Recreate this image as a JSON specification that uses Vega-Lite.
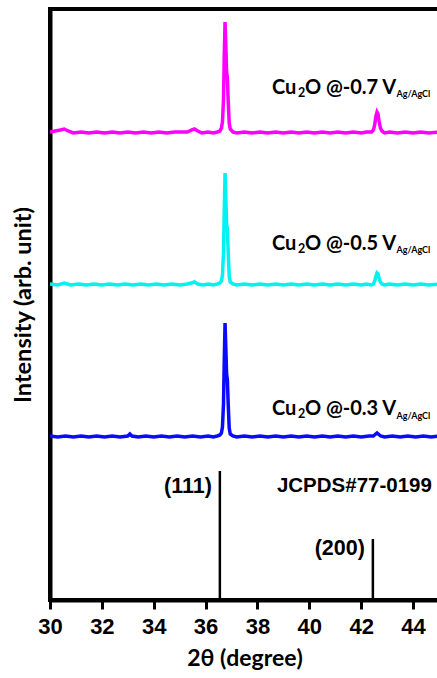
{
  "$schema": "https://vega.github.io/schema/vega-lite/v6.json",
  "width": 389,
  "height": 591,
  "autosize": "none",
  "padding": {"left": 50, "top": 9, "right": 0, "bottom": 78},
  "background": "white",
  "config": {"view": {"stroke": "black", "strokeWidth": 4}},
  "datasets": {
    "xrd": [
      {"sample": "-0.7 V", "two_theta": 30.0, "intensity": 468},
      {"sample": "-0.7 V", "two_theta": 30.2, "intensity": 469},
      {"sample": "-0.7 V", "two_theta": 30.4, "intensity": 470},
      {"sample": "-0.7 V", "two_theta": 30.55, "intensity": 471},
      {"sample": "-0.7 V", "two_theta": 30.7, "intensity": 469},
      {"sample": "-0.7 V", "two_theta": 30.9, "intensity": 467},
      {"sample": "-0.7 V", "two_theta": 31.2, "intensity": 468},
      {"sample": "-0.7 V", "two_theta": 31.5, "intensity": 467},
      {"sample": "-0.7 V", "two_theta": 31.8, "intensity": 468},
      {"sample": "-0.7 V", "two_theta": 32.1, "intensity": 467},
      {"sample": "-0.7 V", "two_theta": 32.4, "intensity": 468},
      {"sample": "-0.7 V", "two_theta": 32.7, "intensity": 467},
      {"sample": "-0.7 V", "two_theta": 33.0, "intensity": 468},
      {"sample": "-0.7 V", "two_theta": 33.3, "intensity": 467},
      {"sample": "-0.7 V", "two_theta": 33.6, "intensity": 468},
      {"sample": "-0.7 V", "two_theta": 33.9, "intensity": 467},
      {"sample": "-0.7 V", "two_theta": 34.2, "intensity": 468},
      {"sample": "-0.7 V", "two_theta": 34.5, "intensity": 467},
      {"sample": "-0.7 V", "two_theta": 34.8, "intensity": 468},
      {"sample": "-0.7 V", "two_theta": 35.1, "intensity": 468},
      {"sample": "-0.7 V", "two_theta": 35.3, "intensity": 468},
      {"sample": "-0.7 V", "two_theta": 35.45, "intensity": 470},
      {"sample": "-0.7 V", "two_theta": 35.57, "intensity": 471},
      {"sample": "-0.7 V", "two_theta": 35.7, "intensity": 469},
      {"sample": "-0.7 V", "two_theta": 35.85, "intensity": 467},
      {"sample": "-0.7 V", "two_theta": 36.1, "intensity": 468},
      {"sample": "-0.7 V", "two_theta": 36.3, "intensity": 467},
      {"sample": "-0.7 V", "two_theta": 36.45, "intensity": 468},
      {"sample": "-0.7 V", "two_theta": 36.55, "intensity": 469},
      {"sample": "-0.7 V", "two_theta": 36.61, "intensity": 472},
      {"sample": "-0.7 V", "two_theta": 36.65, "intensity": 478},
      {"sample": "-0.7 V", "two_theta": 36.69, "intensity": 500},
      {"sample": "-0.7 V", "two_theta": 36.72, "intensity": 545},
      {"sample": "-0.7 V", "two_theta": 36.75, "intensity": 578},
      {"sample": "-0.7 V", "two_theta": 36.78, "intensity": 554},
      {"sample": "-0.7 V", "two_theta": 36.81, "intensity": 528},
      {"sample": "-0.7 V", "two_theta": 36.84, "intensity": 522},
      {"sample": "-0.7 V", "two_theta": 36.87, "intensity": 500},
      {"sample": "-0.7 V", "two_theta": 36.91, "intensity": 477},
      {"sample": "-0.7 V", "two_theta": 36.95, "intensity": 471},
      {"sample": "-0.7 V", "two_theta": 37.05, "intensity": 468},
      {"sample": "-0.7 V", "two_theta": 37.2, "intensity": 467},
      {"sample": "-0.7 V", "two_theta": 37.5, "intensity": 468},
      {"sample": "-0.7 V", "two_theta": 37.8, "intensity": 467},
      {"sample": "-0.7 V", "two_theta": 38.1, "intensity": 468},
      {"sample": "-0.7 V", "two_theta": 38.4, "intensity": 467},
      {"sample": "-0.7 V", "two_theta": 38.7, "intensity": 468},
      {"sample": "-0.7 V", "two_theta": 39.0, "intensity": 467},
      {"sample": "-0.7 V", "two_theta": 39.3, "intensity": 468},
      {"sample": "-0.7 V", "two_theta": 39.6, "intensity": 467},
      {"sample": "-0.7 V", "two_theta": 39.9, "intensity": 468},
      {"sample": "-0.7 V", "two_theta": 40.2, "intensity": 467},
      {"sample": "-0.7 V", "two_theta": 40.5, "intensity": 468},
      {"sample": "-0.7 V", "two_theta": 40.8, "intensity": 467},
      {"sample": "-0.7 V", "two_theta": 41.1, "intensity": 468},
      {"sample": "-0.7 V", "two_theta": 41.4, "intensity": 467},
      {"sample": "-0.7 V", "two_theta": 41.7, "intensity": 468},
      {"sample": "-0.7 V", "two_theta": 42.0, "intensity": 467},
      {"sample": "-0.7 V", "two_theta": 42.2, "intensity": 468},
      {"sample": "-0.7 V", "two_theta": 42.4, "intensity": 468},
      {"sample": "-0.7 V", "two_theta": 42.47, "intensity": 470},
      {"sample": "-0.7 V", "two_theta": 42.52, "intensity": 475},
      {"sample": "-0.7 V", "two_theta": 42.56, "intensity": 483},
      {"sample": "-0.7 V", "two_theta": 42.61, "intensity": 488},
      {"sample": "-0.7 V", "two_theta": 42.65, "intensity": 486},
      {"sample": "-0.7 V", "two_theta": 42.69, "intensity": 479},
      {"sample": "-0.7 V", "two_theta": 42.74, "intensity": 472},
      {"sample": "-0.7 V", "two_theta": 42.8, "intensity": 469},
      {"sample": "-0.7 V", "two_theta": 42.9, "intensity": 467},
      {"sample": "-0.7 V", "two_theta": 43.1, "intensity": 468},
      {"sample": "-0.7 V", "two_theta": 43.4, "intensity": 467},
      {"sample": "-0.7 V", "two_theta": 43.7, "intensity": 468},
      {"sample": "-0.7 V", "two_theta": 44.0, "intensity": 467},
      {"sample": "-0.7 V", "two_theta": 44.3, "intensity": 468},
      {"sample": "-0.7 V", "two_theta": 44.6, "intensity": 467},
      {"sample": "-0.7 V", "two_theta": 45.0, "intensity": 468},

      {"sample": "-0.5 V", "two_theta": 30.0, "intensity": 316},
      {"sample": "-0.5 V", "two_theta": 30.3, "intensity": 315},
      {"sample": "-0.5 V", "two_theta": 30.55, "intensity": 317},
      {"sample": "-0.5 V", "two_theta": 30.8, "intensity": 315},
      {"sample": "-0.5 V", "two_theta": 31.1, "intensity": 316},
      {"sample": "-0.5 V", "two_theta": 31.4, "intensity": 315},
      {"sample": "-0.5 V", "two_theta": 31.7, "intensity": 316},
      {"sample": "-0.5 V", "two_theta": 32.0, "intensity": 315},
      {"sample": "-0.5 V", "two_theta": 32.3, "intensity": 316},
      {"sample": "-0.5 V", "two_theta": 32.6, "intensity": 315},
      {"sample": "-0.5 V", "two_theta": 32.9, "intensity": 316},
      {"sample": "-0.5 V", "two_theta": 33.2, "intensity": 315},
      {"sample": "-0.5 V", "two_theta": 33.5, "intensity": 316},
      {"sample": "-0.5 V", "two_theta": 33.8, "intensity": 315},
      {"sample": "-0.5 V", "two_theta": 34.1, "intensity": 316},
      {"sample": "-0.5 V", "two_theta": 34.4, "intensity": 315},
      {"sample": "-0.5 V", "two_theta": 34.7, "intensity": 316},
      {"sample": "-0.5 V", "two_theta": 35.0, "intensity": 315},
      {"sample": "-0.5 V", "two_theta": 35.3, "intensity": 316},
      {"sample": "-0.5 V", "two_theta": 35.45, "intensity": 317},
      {"sample": "-0.5 V", "two_theta": 35.57, "intensity": 318},
      {"sample": "-0.5 V", "two_theta": 35.7, "intensity": 316},
      {"sample": "-0.5 V", "two_theta": 35.9, "intensity": 315},
      {"sample": "-0.5 V", "two_theta": 36.1, "intensity": 316},
      {"sample": "-0.5 V", "two_theta": 36.3, "intensity": 315},
      {"sample": "-0.5 V", "two_theta": 36.45, "intensity": 316},
      {"sample": "-0.5 V", "two_theta": 36.55, "intensity": 317},
      {"sample": "-0.5 V", "two_theta": 36.61, "intensity": 319},
      {"sample": "-0.5 V", "two_theta": 36.65, "intensity": 325},
      {"sample": "-0.5 V", "two_theta": 36.69, "intensity": 347},
      {"sample": "-0.5 V", "two_theta": 36.72, "intensity": 390},
      {"sample": "-0.5 V", "two_theta": 36.75, "intensity": 427},
      {"sample": "-0.5 V", "two_theta": 36.78, "intensity": 402},
      {"sample": "-0.5 V", "two_theta": 36.81, "intensity": 376},
      {"sample": "-0.5 V", "two_theta": 36.84, "intensity": 371},
      {"sample": "-0.5 V", "two_theta": 36.87, "intensity": 349},
      {"sample": "-0.5 V", "two_theta": 36.91, "intensity": 324},
      {"sample": "-0.5 V", "two_theta": 36.95, "intensity": 318},
      {"sample": "-0.5 V", "two_theta": 37.05, "intensity": 316},
      {"sample": "-0.5 V", "two_theta": 37.2, "intensity": 315},
      {"sample": "-0.5 V", "two_theta": 37.5, "intensity": 316},
      {"sample": "-0.5 V", "two_theta": 37.8, "intensity": 315},
      {"sample": "-0.5 V", "two_theta": 38.1, "intensity": 316},
      {"sample": "-0.5 V", "two_theta": 38.4, "intensity": 315},
      {"sample": "-0.5 V", "two_theta": 38.7, "intensity": 316},
      {"sample": "-0.5 V", "two_theta": 39.0, "intensity": 315},
      {"sample": "-0.5 V", "two_theta": 39.3, "intensity": 316},
      {"sample": "-0.5 V", "two_theta": 39.6, "intensity": 315},
      {"sample": "-0.5 V", "two_theta": 39.9, "intensity": 316},
      {"sample": "-0.5 V", "two_theta": 40.2, "intensity": 315},
      {"sample": "-0.5 V", "two_theta": 40.5, "intensity": 316},
      {"sample": "-0.5 V", "two_theta": 40.8, "intensity": 315},
      {"sample": "-0.5 V", "two_theta": 41.1, "intensity": 316},
      {"sample": "-0.5 V", "two_theta": 41.4, "intensity": 315},
      {"sample": "-0.5 V", "two_theta": 41.7, "intensity": 316},
      {"sample": "-0.5 V", "two_theta": 42.0, "intensity": 315},
      {"sample": "-0.5 V", "two_theta": 42.2, "intensity": 316},
      {"sample": "-0.5 V", "two_theta": 42.4, "intensity": 315},
      {"sample": "-0.5 V", "two_theta": 42.47, "intensity": 316},
      {"sample": "-0.5 V", "two_theta": 42.52, "intensity": 319},
      {"sample": "-0.5 V", "two_theta": 42.56, "intensity": 323},
      {"sample": "-0.5 V", "two_theta": 42.61, "intensity": 327},
      {"sample": "-0.5 V", "two_theta": 42.65, "intensity": 326},
      {"sample": "-0.5 V", "two_theta": 42.69, "intensity": 322},
      {"sample": "-0.5 V", "two_theta": 42.74, "intensity": 318},
      {"sample": "-0.5 V", "two_theta": 42.8, "intensity": 316},
      {"sample": "-0.5 V", "two_theta": 42.9, "intensity": 315},
      {"sample": "-0.5 V", "two_theta": 43.1, "intensity": 316},
      {"sample": "-0.5 V", "two_theta": 43.4, "intensity": 315},
      {"sample": "-0.5 V", "two_theta": 43.7, "intensity": 316},
      {"sample": "-0.5 V", "two_theta": 44.0, "intensity": 315},
      {"sample": "-0.5 V", "two_theta": 44.3, "intensity": 316},
      {"sample": "-0.5 V", "two_theta": 44.6, "intensity": 315},
      {"sample": "-0.5 V", "two_theta": 45.0, "intensity": 316},

      {"sample": "-0.3 V", "two_theta": 30.0, "intensity": 164},
      {"sample": "-0.3 V", "two_theta": 30.3, "intensity": 163},
      {"sample": "-0.3 V", "two_theta": 30.6, "intensity": 164},
      {"sample": "-0.3 V", "two_theta": 30.9, "intensity": 163},
      {"sample": "-0.3 V", "two_theta": 31.2, "intensity": 164},
      {"sample": "-0.3 V", "two_theta": 31.5, "intensity": 163},
      {"sample": "-0.3 V", "two_theta": 31.8, "intensity": 164},
      {"sample": "-0.3 V", "two_theta": 32.1, "intensity": 163},
      {"sample": "-0.3 V", "two_theta": 32.4, "intensity": 164},
      {"sample": "-0.3 V", "two_theta": 32.7, "intensity": 163},
      {"sample": "-0.3 V", "two_theta": 33.0, "intensity": 164},
      {"sample": "-0.3 V", "two_theta": 33.08, "intensity": 166},
      {"sample": "-0.3 V", "two_theta": 33.16, "intensity": 164},
      {"sample": "-0.3 V", "two_theta": 33.4, "intensity": 163},
      {"sample": "-0.3 V", "two_theta": 33.7, "intensity": 164},
      {"sample": "-0.3 V", "two_theta": 34.0, "intensity": 163},
      {"sample": "-0.3 V", "two_theta": 34.3, "intensity": 164},
      {"sample": "-0.3 V", "two_theta": 34.6, "intensity": 163},
      {"sample": "-0.3 V", "two_theta": 34.9, "intensity": 164},
      {"sample": "-0.3 V", "two_theta": 35.2, "intensity": 163},
      {"sample": "-0.3 V", "two_theta": 35.5, "intensity": 164},
      {"sample": "-0.3 V", "two_theta": 35.8, "intensity": 163},
      {"sample": "-0.3 V", "two_theta": 36.1, "intensity": 164},
      {"sample": "-0.3 V", "two_theta": 36.3, "intensity": 163},
      {"sample": "-0.3 V", "two_theta": 36.45, "intensity": 164},
      {"sample": "-0.3 V", "two_theta": 36.55, "intensity": 165},
      {"sample": "-0.3 V", "two_theta": 36.61, "intensity": 167},
      {"sample": "-0.3 V", "two_theta": 36.65, "intensity": 173},
      {"sample": "-0.3 V", "two_theta": 36.69, "intensity": 196},
      {"sample": "-0.3 V", "two_theta": 36.72, "intensity": 240},
      {"sample": "-0.3 V", "two_theta": 36.75, "intensity": 277},
      {"sample": "-0.3 V", "two_theta": 36.78, "intensity": 252},
      {"sample": "-0.3 V", "two_theta": 36.81, "intensity": 226},
      {"sample": "-0.3 V", "two_theta": 36.84, "intensity": 220},
      {"sample": "-0.3 V", "two_theta": 36.87, "intensity": 197},
      {"sample": "-0.3 V", "two_theta": 36.91, "intensity": 172},
      {"sample": "-0.3 V", "two_theta": 36.95, "intensity": 166},
      {"sample": "-0.3 V", "two_theta": 37.05, "intensity": 164},
      {"sample": "-0.3 V", "two_theta": 37.2, "intensity": 163},
      {"sample": "-0.3 V", "two_theta": 37.5, "intensity": 164},
      {"sample": "-0.3 V", "two_theta": 37.8, "intensity": 163},
      {"sample": "-0.3 V", "two_theta": 38.1, "intensity": 164},
      {"sample": "-0.3 V", "two_theta": 38.4, "intensity": 163},
      {"sample": "-0.3 V", "two_theta": 38.7, "intensity": 164},
      {"sample": "-0.3 V", "two_theta": 39.0, "intensity": 163},
      {"sample": "-0.3 V", "two_theta": 39.3, "intensity": 164},
      {"sample": "-0.3 V", "two_theta": 39.6, "intensity": 163},
      {"sample": "-0.3 V", "two_theta": 39.9, "intensity": 164},
      {"sample": "-0.3 V", "two_theta": 40.2, "intensity": 163},
      {"sample": "-0.3 V", "two_theta": 40.5, "intensity": 164},
      {"sample": "-0.3 V", "two_theta": 40.8, "intensity": 163},
      {"sample": "-0.3 V", "two_theta": 41.1, "intensity": 164},
      {"sample": "-0.3 V", "two_theta": 41.4, "intensity": 163},
      {"sample": "-0.3 V", "two_theta": 41.7, "intensity": 164},
      {"sample": "-0.3 V", "two_theta": 42.0, "intensity": 163},
      {"sample": "-0.3 V", "two_theta": 42.3, "intensity": 164},
      {"sample": "-0.3 V", "two_theta": 42.47, "intensity": 164},
      {"sample": "-0.3 V", "two_theta": 42.56, "intensity": 166},
      {"sample": "-0.3 V", "two_theta": 42.61, "intensity": 167},
      {"sample": "-0.3 V", "two_theta": 42.66, "intensity": 166},
      {"sample": "-0.3 V", "two_theta": 42.75, "intensity": 164},
      {"sample": "-0.3 V", "two_theta": 42.9, "intensity": 163},
      {"sample": "-0.3 V", "two_theta": 43.2, "intensity": 164},
      {"sample": "-0.3 V", "two_theta": 43.5, "intensity": 163},
      {"sample": "-0.3 V", "two_theta": 43.8, "intensity": 164},
      {"sample": "-0.3 V", "two_theta": 44.1, "intensity": 163},
      {"sample": "-0.3 V", "two_theta": 44.4, "intensity": 164},
      {"sample": "-0.3 V", "two_theta": 44.7, "intensity": 163},
      {"sample": "-0.3 V", "two_theta": 45.0, "intensity": 164}
    ],
    "ref": [
      {"hkl": "(111)", "two_theta": 36.55, "height": 129, "label_y": 113},
      {"hkl": "(200)", "two_theta": 42.45, "height": 61, "label_y": 51}
    ],
    "labels": [
      {"part": "main", "text": "Cu", "two_theta": 38.56, "intensity": 512},
      {"part": "sub", "text": "2", "two_theta": 39.56, "intensity": 507},
      {"part": "main", "text": "O @-0.7 V", "two_theta": 39.83, "intensity": 512},
      {"part": "subs", "text": "Ag/AgCl", "two_theta": 43.36, "intensity": 506},
      {"part": "main", "text": "Cu", "two_theta": 38.56, "intensity": 356},
      {"part": "sub", "text": "2", "two_theta": 39.56, "intensity": 351},
      {"part": "main", "text": "O @-0.5 V", "two_theta": 39.83, "intensity": 356},
      {"part": "subs", "text": "Ag/AgCl", "two_theta": 43.36, "intensity": 350},
      {"part": "main", "text": "Cu", "two_theta": 38.56, "intensity": 191},
      {"part": "sub", "text": "2", "two_theta": 39.56, "intensity": 186},
      {"part": "main", "text": "O @-0.3 V", "two_theta": 39.83, "intensity": 191},
      {"part": "subs", "text": "Ag/AgCl", "two_theta": 43.36, "intensity": 184}
    ]
  },
  "layer": [
    {
      "data": {"name": "xrd"},
      "mark": {"type": "line", "strokeWidth": 3.5, "clip": true},
      "encoding": {
        "x": {
          "field": "two_theta", "type": "quantitative",
          "scale": {"domain": [30, 45], "nice": false, "zero": false},
          "axis": {
            "title": "2θ (degree)",
            "values": [30, 31, 32, 33, 34, 35, 36, 37, 38, 39, 40, 41, 42, 43, 44],
            "labelExpr": "datum.value % 2 === 0 ? datum.label : ''",
            "domain": true, "domainColor": "black", "domainWidth": 4,
            "grid": false,
            "tickColor": "black", "tickWidth": 3,
            "tickSize": {"condition": {"test": "datum.value % 2 === 0", "value": 9}, "value": 5},
            "labelFont": "Liberation Sans", "labelFontWeight": "bold", "labelFontSize": 22,
            "labelColor": "black", "labelPadding": 7, "labelFlush": false,
            "titleFont": "Lato", "titleFontWeight": "bold", "titleFontSize": 23,
            "titleColor": "black", "titlePadding": 10
          }
        },
        "y": {
          "field": "intensity", "type": "quantitative",
          "scale": {"domain": [0, 591], "nice": false, "zero": false},
          "axis": {
            "title": "Intensity (arb. unit)",
            "labels": false, "ticks": false, "grid": false,
            "domain": true, "domainColor": "black", "domainWidth": 4,
            "titleFont": "Lato", "titleFontWeight": "bold", "titleFontSize": 23.5,
            "titleColor": "black", "titlePadding": 15
          }
        },
        "color": {
          "field": "sample", "type": "nominal",
          "scale": {"domain": ["-0.3 V", "-0.5 V", "-0.7 V"], "range": ["#0a0aff", "#00f2f2", "#ff00ff"]},
          "legend": null
        }
      }
    },
    {
      "data": {"name": "ref"},
      "mark": {"type": "rule", "color": "black", "strokeWidth": 2.5},
      "encoding": {
        "x": {"field": "two_theta", "type": "quantitative"},
        "y": {"field": "height", "type": "quantitative"},
        "y2": {"datum": 0}
      }
    },
    {
      "data": {"name": "ref"},
      "mark": {"type": "text", "align": "right", "baseline": "middle", "dx": -8, "font": "Liberation Sans", "fontWeight": "bold", "fontSize": 21.5, "color": "black"},
      "encoding": {
        "x": {"field": "two_theta", "type": "quantitative"},
        "y": {"field": "label_y", "type": "quantitative"},
        "text": {"field": "hkl"}
      }
    },
    {
      "data": {"values": [{"text": "JCPDS#77-0199", "two_theta": 38.75, "intensity": 114}]},
      "mark": {"type": "text", "align": "left", "baseline": "middle", "font": "Liberation Sans", "fontWeight": "bold", "fontSize": 20.5, "color": "black"},
      "encoding": {
        "x": {"field": "two_theta", "type": "quantitative"},
        "y": {"field": "intensity", "type": "quantitative"},
        "text": {"field": "text"}
      }
    },
    {
      "data": {"name": "labels"},
      "transform": [{"filter": "datum.part === 'main'"}],
      "mark": {"type": "text", "align": "left", "baseline": "middle", "font": "Lato", "fontWeight": "bold", "fontSize": 20, "color": "black"},
      "encoding": {
        "x": {"field": "two_theta", "type": "quantitative"},
        "y": {"field": "intensity", "type": "quantitative"},
        "text": {"field": "text"}
      }
    },
    {
      "data": {"name": "labels"},
      "transform": [{"filter": "datum.part === 'sub'"}],
      "mark": {"type": "text", "align": "left", "baseline": "middle", "font": "Lato", "fontWeight": "bold", "fontSize": 12.5, "color": "black"},
      "encoding": {
        "x": {"field": "two_theta", "type": "quantitative"},
        "y": {"field": "intensity", "type": "quantitative"},
        "text": {"field": "text"}
      }
    },
    {
      "data": {"name": "labels"},
      "transform": [{"filter": "datum.part === 'subs'"}],
      "mark": {"type": "text", "align": "left", "baseline": "middle", "font": "Lato", "fontWeight": "bold", "fontSize": 9, "color": "black"},
      "encoding": {
        "x": {"field": "two_theta", "type": "quantitative"},
        "y": {"field": "intensity", "type": "quantitative"},
        "text": {"field": "text"}
      }
    }
  ]
}
